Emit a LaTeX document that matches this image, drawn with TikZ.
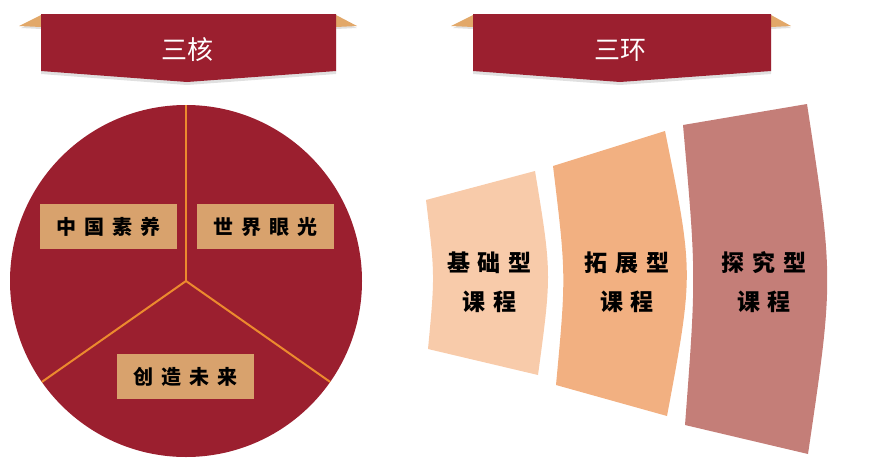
\documentclass[tikz,border=0pt]{standalone}
\usepackage{fontspec}
\newfontfamily\cjk{Noto Sans CJK SC}
\usetikzlibrary{positioning,shapes}
\usepackage{xcolor}

\definecolor{corered}{HTML}{9B1F2F}
\definecolor{tabtan}{HTML}{E2A869}
\definecolor{boxtan}{HTML}{D8A26D}
\definecolor{lineorange}{HTML}{EC8A2E}
\definecolor{ringone}{HTML}{F8CBAA}
\definecolor{ringtwo}{HTML}{F2B081}
\definecolor{ringthree}{HTML}{C47E78}

\newcommand\zigap{\hspace{8pt}}

\begin{document}
\begin{tikzpicture}[x=1pt, y=-1pt,
    banner/.style={fill=corered},
    bannershadow/.style={fill=black, opacity=0.12},
    tab/.style={fill=tabtan},
    title/.style={text=white, font=\cjk\fontsize{26}{30}\selectfont},
    label/.style={
        rectangle,
        inner sep=0pt,
        fill=boxtan,
        minimum width=137pt,
        minimum height=45pt,
        font=\cjk\bfseries\fontsize{20}{22}\selectfont
    },
    ringtext/.style={align=center, font=\cjk\bfseries\fontsize{23}{39}\selectfont},
    divider/.style={lineorange, line width=2pt}
]
    \useasboundingbox (0,0) rectangle (872,458);



    % left banner
    \fill[bannershadow] (21,28) -- (41,18) -- (336,18) -- (357,28) -- (336,29) -- (336,74) -- (187,85) -- (41,74) -- (41,29) -- cycle;
    \fill[tab] (19,26) -- (41,15) -- (41,27) -- cycle;
    \fill[tab] (357,26) -- (336,15) -- (336,27) -- cycle;
    \fill[banner] (41,14) -- (336,14) -- (336,71) -- (187,82) -- (41,71) -- cycle;
    \node (sanhe_title) [title] at (187,50)
    {
        三核
    };



    % right banner
    \fill[bannershadow] (453,28) -- (473,18) -- (771,18) -- (791,28) -- (771,29) -- (771,74) -- (620,85) -- (473,74) -- (473,29) -- cycle;
    \fill[tab] (451,26) -- (473,15) -- (473,27) -- cycle;
    \fill[tab] (791,26) -- (771,15) -- (771,27) -- cycle;
    \fill[banner] (473,14) -- (771,14) -- (771,71) -- (620,82) -- (473,71) -- cycle;
    \node (sanhuan_title) [title] at (620,50)
    {
        三环
    };




    % core circle
    \node (core) [circle, inner sep=0pt, outer sep=0pt, fill=corered, minimum size=352pt] at (186,281) {};

    \draw[divider] (core.center) to (core.90);
    \draw[divider] (core.center) to (core.215);
    \draw[divider] (core.center) to (core.-35);

    \node (zhongguo_suyang) [label] at (108.7,226.8)
    {
        中\zigap 国\zigap 素\zigap 养
    };
    \node (shijie_yanguang) [label] at (265,226.8)
    {
        世\zigap 界\zigap 眼\zigap 光
    };
    \node (chuangzao_weilai) [label] at (185.3,376.8)
    {
        创\zigap 造\zigap 未\zigap 来
    };




    % rings
    \fill[ringone] (426,200) -- (535,171) .. controls (551.8,273) .. (538,375) -- (428,349) .. controls (435,275) .. cycle;
    \fill[ringtwo] (553,166) -- (665,131) .. controls (693.7,273) .. (667,416) -- (556,385) .. controls (566.2,275) .. cycle;
    \fill[ringthree] (683,125) -- (807,104) .. controls (833.8,279) .. (808,454) -- (685,425) .. controls (696.3,275) .. cycle;

    \node (jichu_kecheng) [ringtext] at (489.5,282)
    {
        基\zigap 础\zigap 型\\课\zigap 程
    };
    \node (tuozhan_kecheng) [ringtext] at (627,282)
    {
        拓\zigap 展\zigap 型\\课\zigap 程
    };
    \node (tanjiu_kecheng) [ringtext] at (764,282)
    {
        探\zigap 究\zigap 型\\课\zigap 程
    };


\end{tikzpicture}
\end{document}
